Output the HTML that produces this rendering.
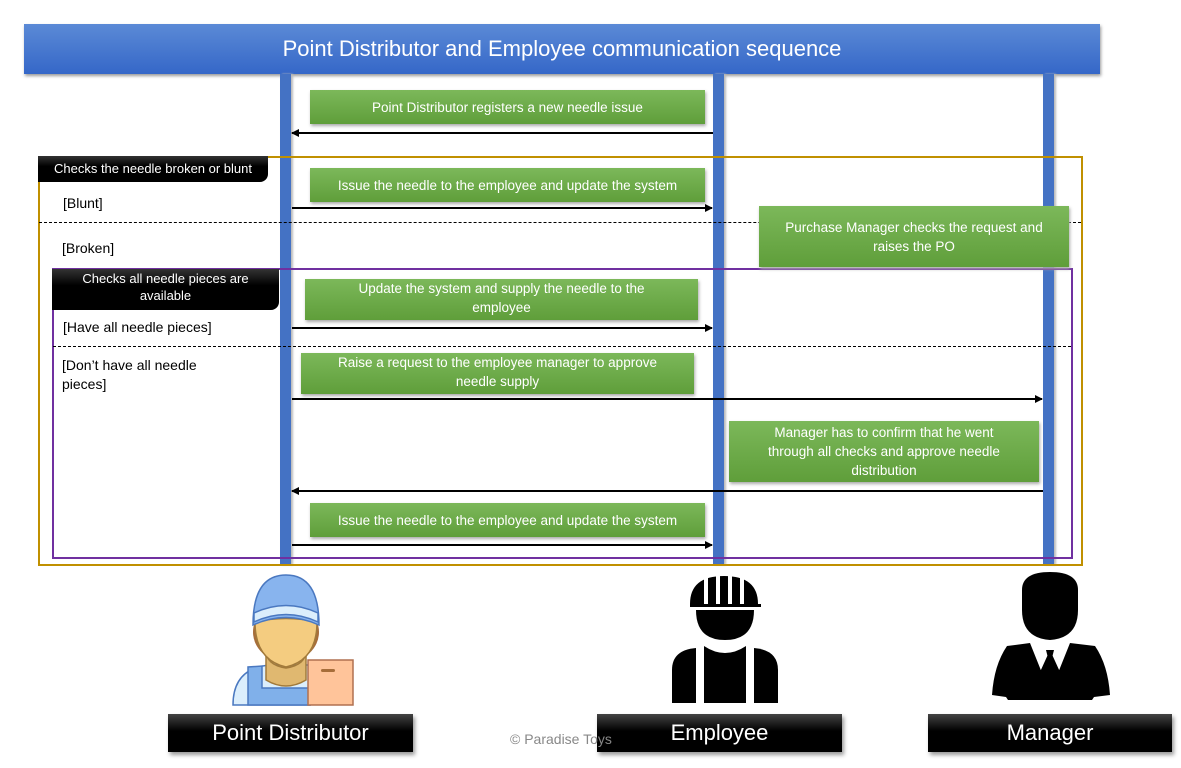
<!DOCTYPE html>
<html><head><meta charset="utf-8"><style>
body{margin:0;width:1181px;height:768px;background:#fff;position:relative;overflow:hidden;font-family:"Liberation Sans",sans-serif}
.a{position:absolute}
.title{left:24px;top:24px;width:1076px;height:50px;background:linear-gradient(#5b8ad6,#3567c8);color:#fff;font-size:22px;text-align:center;line-height:50px;box-shadow:1px 2px 3px #999}
.ll{width:11px;background:#4472c4;top:74px;height:491px;box-shadow:2px 0 2px #bbb}
.g{background:linear-gradient(#7cb85a,#5f9e3a);color:#fff;font-size:13.5px;display:flex;align-items:center;justify-content:center;text-align:center;line-height:19px;box-shadow:1px 2px 3px #aaa;white-space:nowrap}
.blk{background:linear-gradient(#333,#000 40%);color:#fff;font-size:13px;text-align:center;border-bottom-right-radius:8px}
.lbl{font-size:14px;color:#000}
.bot{background:linear-gradient(#444,#000 45%);color:#fff;font-size:22px;text-align:center;line-height:38px;height:38px;box-shadow:2px 3px 4px #999}
</style></head><body>
<div class="a title">Point Distributor and Employee communication sequence</div>
<div class="a ll" style="left:280px"></div>
<div class="a ll" style="left:713px"></div>
<div class="a ll" style="left:1043px"></div>
<div class="a" style="left:38px;top:156px;width:1041px;height:406px;border:2px solid #c09000"></div>
<div class="a" style="left:52px;top:268px;width:1017px;height:287px;border:2px solid #7030a0"></div>
<div class="a" style="left:39px;top:222px;width:1042px;border-top:1px dashed #000"></div>
<div class="a" style="left:53px;top:346px;width:1018px;border-top:1px dashed #000"></div>
<div class="a blk" style="left:38px;top:156px;width:230px;height:26px;line-height:26px">Checks the needle broken or blunt</div>
<div class="a blk" style="left:52px;top:269px;width:227px;height:41px;line-height:17px;padding-top:1px;box-sizing:border-box">Checks all needle pieces are<br>available</div>
<div class="a lbl" style="left:63px;top:195px">[Blunt]</div>
<div class="a lbl" style="left:62px;top:240px">[Broken]</div>
<div class="a lbl" style="left:63px;top:319px">[Have all needle pieces]</div>
<div class="a lbl" style="left:62px;top:356px;line-height:19px">[Don’t have all needle<br>pieces]</div>
<div class="a g" style="left:310px;top:90px;width:395px;height:34px">Point Distributor registers a new needle issue</div>
<div class="a g" style="left:310px;top:168px;width:395px;height:34px">Issue the needle to the employee and update the system</div>
<div class="a g" style="left:759px;top:206px;width:310px;height:61px">Purchase Manager checks the request and<br>raises the PO</div>
<div class="a g" style="left:305px;top:279px;width:393px;height:41px;align-items:flex-start">Update the system and supply the needle to the<br>employee</div>
<div class="a g" style="left:301px;top:353px;width:393px;height:41px;align-items:flex-start">Raise a request to the employee manager to approve<br>needle supply</div>
<div class="a g" style="left:729px;top:421px;width:310px;height:61px">Manager has to confirm that he went<br>through all checks and approve needle<br>distribution</div>
<div class="a g" style="left:310px;top:503px;width:395px;height:34px">Issue the needle to the employee and update the system</div>
<svg class="a" style="left:0;top:0" width="1181" height="768">
<defs><marker id="m" markerWidth="8" markerHeight="8" refX="7" refY="4" orient="auto" markerUnits="userSpaceOnUse"><path d="M0,0 L8,4 L0,8z" fill="#000"/></marker></defs>
<g stroke="#000" stroke-width="2" marker-end="url(#m)">
<line x1="713" y1="133" x2="292" y2="133"/>
<line x1="292" y1="208" x2="712" y2="208"/>
<line x1="292" y1="328" x2="712" y2="328"/>
<line x1="292" y1="399" x2="1042" y2="399"/>
<line x1="1043" y1="491" x2="292" y2="491"/>
<line x1="292" y1="545" x2="712" y2="545"/>
</g>
<g stroke="#4a78c0" stroke-width="1.5">
<path d="M233,705 Q233,668 270,665 L310,665 L310,705z" fill="#dbeefc"/>
<path d="M248,705 L248,667 L262,666 L262,688 L310,688 L310,705z" fill="#80b0ea"/>
<ellipse cx="286" cy="632" rx="33" ry="30" fill="#a76d3a" stroke="none"/>
<path d="M266,650 Q266,665 286,668 Q306,665 306,650 L306,680 Q286,692 266,680z" fill="#e0b870" stroke="#a27a3a"/>
<path d="M255,622 Q255,660 286,667 Q317,660 317,622 Q286,615 255,622z" fill="#f4cc80" stroke="#a27a3a"/>
<path d="M253,625 Q253,575 286,575 Q319,575 319,625 Q286,610 253,625z" fill="#88b4ee"/>
<path d="M254,613 Q286,598 318,613 L318,622 Q286,607 254,622z" fill="#dbeefc"/>
</g>
<rect x="308" y="660" width="45" height="45" fill="#ffc49a" stroke="#b07050" stroke-width="1.5"/>
<rect x="321" y="669" width="14" height="3" rx="1.5" fill="#a76d3a"/>
<g fill="#000">
<path d="M690,604 Q690,576 724,576 Q758,576 758,604 L761,604 L761,607 L690,607z"/>
<rect x="704" y="578" width="4" height="26" fill="#fff"/><rect x="716" y="576" width="4" height="28" fill="#fff"/><rect x="728" y="576" width="4" height="28" fill="#fff"/><rect x="740" y="578" width="4" height="26" fill="#fff"/>
<path d="M696,610 L754,610 Q754,640 725,640 Q696,640 696,610z"/>
<path d="M672,703 L672,670 Q672,650 696,648 L696,703z"/>
<path d="M704,646 Q725,660 746,646 L746,703 L704,703z"/>
<path d="M754,648 Q778,650 778,670 L778,703 L754,703z"/>
</g>
<g fill="#000">
<path d="M1022,590 Q1022,572 1050,572 Q1078,572 1078,590 L1078,610 Q1078,638 1050,640 Q1022,638 1022,610z"/>
<path d="M1030,643 L1048,688 L1040,672 L1050,650 L1060,672 L1052,688 L1070,643 L1095,646 Q1108,665 1110,695 L1094,697 L1092,700 L1008,700 L1006,697 L992,695 Q994,665 1007,646z"/>
<path d="M1046,650 L1054,650 L1052,658 L1056,678 L1050,686 L1044,678 L1048,658z"/>
</g>
</svg>
<div class="a bot" style="left:168px;top:714px;width:245px">Point Distributor</div>
<div class="a bot" style="left:597px;top:714px;width:245px">Employee</div>
<div class="a bot" style="left:928px;top:714px;width:244px">Manager</div>
<div class="a" style="left:510px;top:731px;font-size:14px;color:#888">© Paradise Toys</div>
</body></html>
